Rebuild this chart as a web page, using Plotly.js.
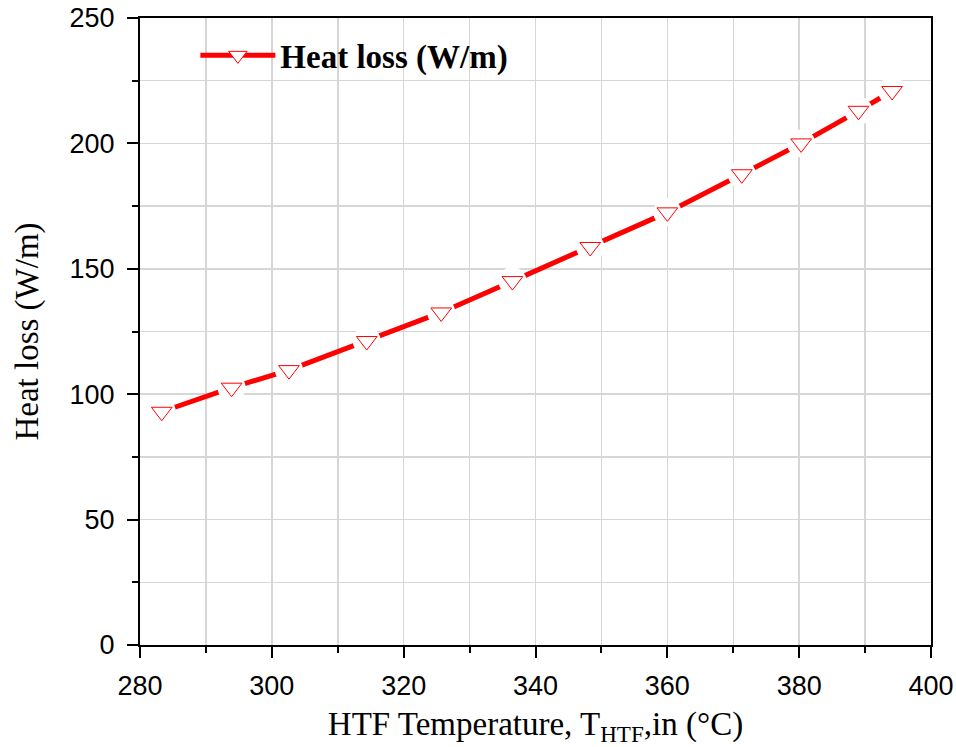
<!DOCTYPE html>
<html>
<head>
<meta charset="utf-8">
<script src="https://cdn.plot.ly/plotly-3.0.1.min.js"></script>
<style>html,body{margin:0;padding:0;background:#fff;}#chart{width:956px;height:747px;}</style>
</head>
<body>
<div id="chart"></div>
<script>
// Data
const temperature = [283.3, 293.9, 302.6, 314.4, 325.7, 336.5, 348.3, 360.0, 371.3, 380.3, 389.0, 394.1];
const heatLoss    = [93.0, 102.6, 109.6, 121.2, 132.6, 145.1, 158.7, 172.5, 187.7, 200.0, 213.0, 220.9];
const seriesName  = "Heat loss (W/m)";
const xTitle = "HTF Temperature, T<sub>HTF</sub>,in (°C)";
const yTitle = "Heat loss (W/m)";

const red = "#ff0000";
const traces = [
  { // line + legend entry
    x: temperature, y: heatLoss, type: "scatter", mode: "lines+markers",
    name: seriesName, showlegend: true,
    line: { color: red, width: 5 },
    marker: { symbol: "triangle-down", size: 18, color: "#ffffff", line: { color: red, width: 1 } }
  },
  { // white halo creating gaps around markers
    x: temperature, y: heatLoss, type: "scatter", mode: "markers", showlegend: false, hoverinfo: "skip",
    marker: { symbol: "circle", size: 28, color: "#ffffff", line: { width: 0 } }
  },
  { // markers on top
    x: temperature, y: heatLoss, type: "scatter", mode: "markers", showlegend: false,
    marker: { symbol: "triangle-down", size: 18, color: "#ffffff", line: { color: red, width: 1 } }
  }
];

const tickFont = { family: "Liberation Sans, Arial, sans-serif", size: 27, color: "#000000" };
const titleFont = { family: "Liberation Serif, Times New Roman, serif", size: 33, color: "#000000" };
const gridColor = "#d6d6d6";

const layout = {
  width: 956, height: 747,
  margin: { l: 140, r: 25, t: 18, b: 102 },
  paper_bgcolor: "#fff", plot_bgcolor: "#fff",
  font: { family: "Liberation Sans, Arial, sans-serif", size: 27, color: "#000000" },
  xaxis: {
    showline: true, linecolor: "#000", linewidth: 2, mirror: true,
    ticks: "outside", ticklen: 11, tickwidth: 2, tickcolor: "#000",
    ticklabelstandoff: 5,
    showgrid: true, gridcolor: gridColor, gridwidth: 1.5, zeroline: false,
    tickfont: tickFont,
    range: [280, 400], dtick: 20, tick0: 280,
    minor: { dtick: 10, ticks: "outside", ticklen: 6, tickwidth: 2, tickcolor: "#000", showgrid: true, gridcolor: gridColor, gridwidth: 1.5 },
    title: { text: xTitle, font: titleFont, standoff: 12 }
  },
  yaxis: {
    showline: true, linecolor: "#000", linewidth: 2, mirror: true,
    ticks: "outside", ticklen: 11, tickwidth: 2, tickcolor: "#000",
    ticklabelstandoff: 7,
    showgrid: true, gridcolor: gridColor, gridwidth: 1.5, zeroline: false,
    tickfont: tickFont,
    range: [0, 250], dtick: 50, tick0: 0,
    minor: { dtick: 25, ticks: "outside", ticklen: 6, tickwidth: 2, tickcolor: "#000", showgrid: true, gridcolor: gridColor, gridwidth: 1.5 },
    title: { text: yTitle, font: titleFont, standoff: 21 }
  },
  showlegend: true,
  legend: {
    x: 0.07, y: 0.985, xanchor: "left", yanchor: "top",
    bgcolor: "rgba(0,0,0,0)", borderwidth: 0,
    itemwidth: 75,
    font: { family: "Liberation Serif, Times New Roman, serif", size: 33, color: "#000", weight: "bold" }
  }
};

Plotly.newPlot("chart", traces, layout, { displayModeBar: false, staticPlot: true });
</script>
</body>
</html>
